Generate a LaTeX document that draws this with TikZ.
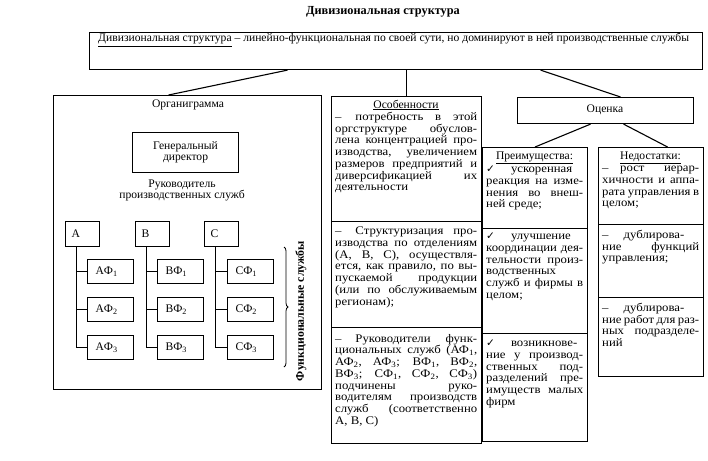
\documentclass[tikz,border=0pt]{standalone}
\usepackage{fontspec}
\setmainfont{Liberation Serif}
\newfontfamily\colfont[FakeStretch=1.1]{Liberation Serif}
\newfontfamily\symfont{DejaVu Sans}
\usetikzlibrary{decorations.pathreplacing}
\newcommand{\chk}{{\symfont\fontsize{10.5}{10}\selectfont ✓}}
\newcommand{\sub}[1]{\textsubscript{#1}}
\newcommand{\jset}{\tolerance=9999\relax\hyphenpenalty=10000\relax\exhyphenpenalty=10000\relax}
\tikzset{
  box/.style={draw, line width=1.1pt, inner sep=0pt, anchor=north west},
  fbox/.style={draw, line width=1.1pt, anchor=north west, align=left, minimum height=24pt,
    font=\fontsize{11.6}{12}\selectfont},
  conn/.style={line width=1.1pt},
  txt/.style={inner sep=0pt, anchor=north west, align=justify,
    font=\colfont\fontsize{11.6}{11.7}\selectfont},
  lbl/.style={inner sep=0pt, font=\fontsize{11.6}{11.6}\selectfont},
}
\begin{document}
\begin{tikzpicture}[x=1pt,y=-1pt]
\useasboundingbox (0,0) rectangle (708,460);

% title
\node[lbl, font=\fontsize{12.3}{13}\selectfont\bfseries] (title) at (383,12) {Дивизиональная структура};

% top box
\node[box, minimum width=613pt, minimum height=37pt] (top) at (89,32) {};
\node[lbl, anchor=west] (toptxt) at (98,40) {\underline{Дивизиональная структура} – линейно-функциональная по своей сути, но доминируют в ней производственные службы};

% organigram
\node[box, minimum width=268pt, minimum height=294pt] (org) at (53,95) {};
\node[lbl] (orgt) at (188,105) {Органиграмма};
\node[box, minimum width=106pt, minimum height=40pt, align=center, font=\fontsize{11.6}{11}\selectfont] (gd) at (132,132) {Генеральный\\директор};
\node[lbl, align=center, font=\fontsize{11.6}{11}\selectfont] (ruk) at (182,190) {Руководитель\\производственных служб};

\node[fbox, text width=22pt, inner xsep=6pt, minimum height=25pt] (A) at (65,221) {А};
\node[fbox, text width=22pt, inner xsep=6pt, minimum height=25pt] (B) at (135,221) {В};
\node[fbox, text width=22pt, inner xsep=6pt, minimum height=25pt] (C) at (204,221) {С};

\foreach \c/\x in {A/87,B/157,C/227}{
  \node[fbox, text width=30pt, inner xsep=8pt] (\c F1) at (\x,259) {\c Ф\sub{1}};
  \node[fbox, text width=30pt, inner xsep=8pt] (\c F2) at (\x,297) {\c Ф\sub{2}};
  \node[fbox, text width=30pt, inner xsep=8pt] (\c F3) at (\x,335) {\c Ф\sub{3}};
}
\foreach \c in {A,B,C}{
  \coordinate (\c x) at ([xshift=-6.5pt]\c.south);
  \draw[conn] (\c x) |- (\c F3.west);
  \draw[conn] (\c F1.west) -- (\c F1.west -| \c x);
  \draw[conn] (\c F2.west) -- (\c F2.west -| \c x);
}
\draw[line width=0.8pt, decorate, decoration={brace, amplitude=4pt}] (284,247) -- (284,367);
\node[lbl, rotate=90, font=\fontsize{11.8}{12}\selectfont\bfseries] (fs) at (301,311) {Функциональные службы};

% features column
\node[box, minimum width=150pt, minimum height=125pt] (os1) at (331,96) {};
\node[box, minimum width=150pt, minimum height=106pt] (os2) at (331,221) {};
\node[box, minimum width=150pt, minimum height=116pt] (os3) at (331,327) {};
\node[lbl] (osh) at (406,105) {\underline{Особенности}};
\node[txt, text width=142pt] (os1t) at (335,112) {\jset–\hspace{1.2em}потребность в этой\linebreak оргструктуре обуслов-\linebreak лена концентрацией про-\linebreak изводства, увеличением\linebreak размеров предприятий и\linebreak диверсификацией их\linebreak деятельности};
\node[txt, text width=142pt] (os2t) at (335,227) {\jset–\hspace{1.2em}Структуризация про-\linebreak изводства по отделениям\linebreak (А, В, С), осуществля-\linebreak ется, как правило, по вы-\linebreak пускаемой продукции\linebreak (или по обслуживаемым\linebreak регионам);};
\node[txt, text width=142pt] (os3t) at (335,334) {\jset–\hspace{1.2em}Руководители функ-\linebreak циональных служб (АФ\sub{1},\linebreak АФ\sub{2}, АФ\sub{3}; ВФ\sub{1}, ВФ\sub{2},\linebreak ВФ\sub{3}; СФ\sub{1}, СФ\sub{2}, СФ\sub{3})\linebreak подчинены руко-\linebreak водителям производств\linebreak служб (соответственно\linebreak А, В, С)};

% evaluation
\node[box, minimum width=176pt, minimum height=26pt] (ots) at (517,97) {};
\node[lbl] (otst) at (605,110) {Оценка};

\node[box, minimum width=105pt, minimum height=81pt] (pr1) at (482,147) {};
\node[box, minimum width=105pt, minimum height=105pt] (pr2) at (482,228) {};
\node[box, minimum width=105pt, minimum height=108pt] (pr3) at (482,333) {};
\node[lbl] (prh) at (534.5,158) {\underline{Преимущества:}};
\node[txt, text width=97pt] (pr1t) at (486,166) {\jset\chk\hspace{16pt}ускоренная\newline реакция на изме-\linebreak нения во внеш-\linebreak ней среде;};
\node[txt, text width=97pt] (pr2t) at (486,233) {\jset\chk\hspace{16pt}улучшение\newline координации дея-\linebreak тельности произ-\linebreak водственных\newline служб и фирмы в\linebreak целом;};
\node[txt, text width=97pt] (pr3t) at (486,340) {\jset\chk\hspace{16pt}возникнове-\newline ние у производ-\linebreak ственных под-\linebreak разделений пре-\linebreak имуществ малых\linebreak фирм};

\node[box, minimum width=105pt, minimum height=77pt] (nd1) at (598,147) {};
\node[box, minimum width=105pt, minimum height=73pt] (nd2) at (598,224) {};
\node[box, minimum width=105pt, minimum height=79pt] (nd3) at (598,297) {};
\node[lbl] (ndh) at (650.5,158) {\underline{Недостатки:}};
\node[txt, text width=97pt] (nd1t) at (602,166) {\jset–\hspace{1em}рост иерар-\linebreak хичности и аппа-\linebreak рата управления в\linebreak целом;};
\node[txt, text width=97pt] (nd2t) at (602,230) {\jset–\hspace{1.3em}дублирова-\newline ние функций\linebreak управления;};
\node[txt, text width=97pt] (nd3t) at (602,303) {\jset–\hspace{1.3em}дублирова-\newline ние работ для раз-\linebreak ных подразделе-\linebreak ний};

% connectors
\draw[conn] ([xshift=-108.5pt]top.south) -- ([xshift=-19pt]org.north);
\draw[conn] (top.south -| os1.north) -- (os1.north);
\draw[conn] ([xshift=144.5pt]top.south) -- ([xshift=15pt]ots.north);
\draw[conn] ([xshift=-15pt]ots.south) -- (pr1.north);
\draw[conn] ([xshift=18pt]ots.south) -- ([xshift=16.5pt]nd1.north);
\end{tikzpicture}
\end{document}
